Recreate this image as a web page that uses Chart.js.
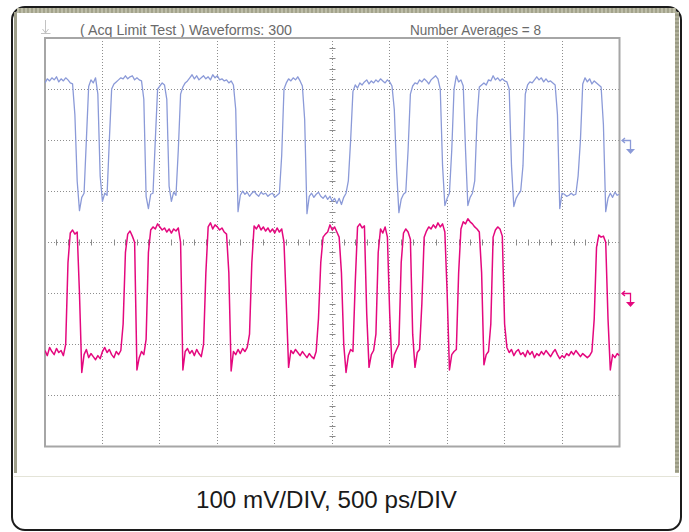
<!DOCTYPE html>
<html>
<head>
<meta charset="utf-8">
<script src="https://cdn.jsdelivr.net/npm/chart.js@4.4.1/dist/chart.umd.min.js"></script>
<style>
html,body{margin:0;padding:0;background:#fff;width:689px;height:532px;overflow:hidden;font-family:"Liberation Sans",Arial,sans-serif;}
#frame{position:absolute;left:11px;top:6px;width:671px;height:525px;box-sizing:border-box;border:2.5px solid #1c1c1c;border-radius:14px;}
#topstrip{position:absolute;left:17px;top:8px;width:659px;height:5px;background:repeating-linear-gradient(90deg,#bdbda8 0 2px,#a3a38c 2px 4px);}
#leftstrip{position:absolute;left:13.5px;top:12px;width:3.5px;height:461px;background:#a0a08c;}
#rightstrip{position:absolute;left:675px;top:12px;width:4px;height:461px;background:repeating-linear-gradient(180deg,#b0b09a 0 2px,#9a9a84 2px 4px);}
#sep{position:absolute;left:14px;top:476px;width:665px;height:1px;background:#e4e4d8;}
.hdr{position:absolute;top:23px;font-size:14px;line-height:14px;color:#6a6a6a;transform-origin:0 0;white-space:nowrap;}
#caption{position:absolute;top:488px;font-size:24px;line-height:24px;color:#1a1a1a;transform-origin:0 0;white-space:nowrap;}
canvas{position:absolute;left:0;top:0;}
</style>
</head>
<body>
<div id="frame"></div>
<div id="topstrip"></div>
<div id="leftstrip"></div>
<div id="rightstrip"></div>
<div id="sep"></div>
<div class="hdr" id="hdr1">( Acq Limit Test ) Waveforms: 300</div>
<div class="hdr" id="hdr2">Number Averages = 8</div>
<div id="caption">100 mV/DIV, 500 ps/DIV</div>
<canvas id="c" width="689" height="532"></canvas>
<script>
// ---- data (screen units: time in ps, voltage in mV relative to screen centre) ----
const sampleIntervalPs = 20;
const timeGridPs = [0, 500, 1000, 1500, 2000, 2500, 3000, 3500, 4000, 4500, 5000];
const voltGridMv = [-400, -300, -200, -100, 0, 100, 200, 300, 400];
const blueLevelMv = 200;
const magentaLevelMv = -100;

const blueMv = [
  312, 320, 316, 322, 318, 324, 314, 320, 316, 322,
  318, 312, 310, 250, 120, 62, 88, 96, 200, 305,
  318, 312, 322, 290, 130, 80, 96, 92, 200, 300,
  310, 314, 318, 322, 320, 326, 320, 324, 326, 318,
  322, 318, 316, 280, 90, 66, 94, 96, 200, 300,
  306, 312, 308, 280, 110, 80, 98, 92, 180, 290,
  304, 312, 316, 322, 328, 320, 326, 318, 322, 326,
  320, 324, 318, 328, 322, 326, 318, 320, 316, 318,
  312, 316, 308, 260, 60, 92, 100, 94, 98, 90,
  96, 100, 94, 90, 98, 94, 96, 90, 94, 96,
  88, 92, 96, 170, 300, 312, 320, 316, 322, 318,
  324, 316, 306, 240, 56, 90, 96, 88, 94, 98,
  90, 86, 92, 84, 90, 80, 86, 76, 86, 74,
  88, 96, 120, 200, 295, 308, 302, 312, 308, 314,
  318, 310, 316, 312, 318, 314, 320, 316, 312, 318,
  314, 306, 260, 140, 58, 84, 94, 98, 180, 290,
  306, 312, 310, 318, 314, 320, 316, 310, 318, 322,
  326, 320, 300, 150, 72, 86, 96, 180, 300, 326,
  314, 318, 306, 180, 72, 88, 96, 120, 240, 304,
  308, 312, 308, 318, 316, 326, 318, 322, 316, 320,
  316, 314, 300, 150, 70, 86, 94, 100, 150, 290,
  308, 314, 312, 318, 324, 318, 322, 314, 320, 314,
  316, 312, 308, 250, 66, 96, 94, 90, 92, 96,
  92, 94, 130, 200, 310, 322, 314, 320, 310, 316,
  312, 308, 304, 230, 60, 86, 96, 88, 98, 92,
  94
];

const magentaMv = [
  -212, -222, -206, -214, -220, -208, -216, -212, -222, -200,
  -40, 18, 24, 16, 20, -100, -255, -220, -210, -226,
  -218, -224, -230, -222, -228, -214, -206, -216, -210, -220,
  -226, -214, -220, -212, -160, -20, 16, 22, 12, 0,
  -250, -226, -214, -220, -190, -20, 24, 30, 26, 36,
  30, 24, 28, 20, 26, 18, 26, 22, 28, 0,
  -250, -214, -208, -218, -212, -222, -210, -218, -224, -200,
  -60, 30, 38, 26, 34, 30, 24, 28, 20, 16,
  -60, -252, -214, -220, -210, -218, -208, -214, -206, -180,
  -40, 32, 26, 34, 24, 30, 22, 28, 20, 26,
  18, 28, 20, 26, 0, -120, -245, -212, -218, -210,
  -216, -222, -214, -220, -226, -218, -224, -228, -214, -150,
  -40, 10, 16, 20, 34, 24, 30, 20, 10, -60,
  -200, -255, -222, -210, -214, -80, 30, 36, 28, 32,
  -140, -245, -220, -212, -180, -20, 26, 18, 30, 10,
  -140, -245, -220, -210, -200, -40, 18, 26, 20, 6,
  -180, -245, -216, -210, -120, 10, 22, 30, 26, 34,
  28, 38, 30, 36, 20, -100, -250, -220, -214, -210,
  -60, 26, 40, 36, 46, 40, 36, 30, 26, 20,
  -60, -240, -220, -214, -160, 10, 24, 30, 26, 12,
  -160, -206, -216, -210, -222, -214, -210, -220, -216, -224,
  -212, -220, -214, -226, -218, -222, -214, -220, -212, -218,
  -224, -216, -210, -220, -228, -222, -226, -218, -222, -214,
  -220, -212, -218, -224, -218, -222, -226, -222, -214, -150,
  -10, 14, 10, 12, 0, -150, -250, -220, -226, -218,
  -222
];

const BLUE = '#8b9ad8';
const MAGENTA = '#e4087e';

// ---- text fitting ----
function fitText(id, left, width) {
  const el = document.getElementById(id);
  el.style.left = left + 'px';
  const w = el.getBoundingClientRect().width;
  el.style.transform = 'scaleX(' + (width / w) + ')';
}
fitText('hdr1', 80, 212);
fitText('hdr2', 410, 131);
fitText('caption', 196, 261);

// ---- decorations plugin ----
const scopeDecor = {
  id: 'scopeDecor',
  beforeDatasetsDraw(chart) {
    const {ctx, chartArea: a, scales: {x, y}} = chart;
    ctx.save();
    // centre graticule minor ticks
    ctx.strokeStyle = '#8a8a8a';
    ctx.lineWidth = 1;
    const cx = Math.round(x.getPixelForValue(2500)) + 0.5;
    const cy = Math.round(y.getPixelForValue(0)) + 0.5;
    ctx.beginPath();
    for (let mv = -400; mv <= 400; mv += 20) {
      if (mv % 100 === 0) continue;
      const py = Math.round(y.getPixelForValue(mv)) + 0.5;
      ctx.moveTo(cx - 3, py); ctx.lineTo(cx + 3, py);
    }
    for (let ps = 0; ps <= 5000; ps += 100) {
      if (ps % 500 === 0) continue;
      const px = Math.round(x.getPixelForValue(ps)) + 0.5;
      ctx.moveTo(px, cy - 3); ctx.lineTo(px, cy + 3);
    }
    ctx.stroke();
    // plot frame
    ctx.strokeStyle = '#a6a6a6';
    ctx.lineWidth = 2;
    ctx.strokeRect(a.left, a.top, a.right - a.left, a.bottom - a.top);
    ctx.restore();
  },
  afterDraw(chart) {
    const {ctx, chartArea: a, scales: {y}} = chart;
    ctx.save();
    const marker = (mv, color) => {
      const yy = Math.round(y.getPixelForValue(mv)) + 0.5;
      const x0 = a.right + 2.5;
      ctx.strokeStyle = color; ctx.fillStyle = color; ctx.lineWidth = 1.3;
      ctx.beginPath();
      ctx.moveTo(x0 + 3, yy - 2.5); ctx.lineTo(x0, yy); ctx.lineTo(x0 + 3, yy + 2.5);
      ctx.moveTo(x0, yy); ctx.lineTo(x0 + 8.5, yy); ctx.lineTo(x0 + 8.5, yy + 9);
      ctx.stroke();
      ctx.beginPath();
      ctx.moveTo(x0 + 4, yy + 8.5); ctx.lineTo(x0 + 13, yy + 8.5); ctx.lineTo(x0 + 8.5, yy + 13.5);
      ctx.closePath(); ctx.fill();
    };
    marker(blueLevelMv, BLUE);
    marker(magentaLevelMv, MAGENTA);
    // trigger arrow top-left
    ctx.strokeStyle = '#c2c2c2'; ctx.lineWidth = 1;
    const tx = a.left + 0.5;
    ctx.beginPath();
    ctx.moveTo(tx, a.top - 18); ctx.lineTo(tx, a.top - 5);
    ctx.moveTo(tx - 3, a.top - 9); ctx.lineTo(tx, a.top - 5); ctx.lineTo(tx + 3, a.top - 9);
    ctx.moveTo(tx - 4.5, a.top - 4.5); ctx.lineTo(tx + 5, a.top - 4.5);
    ctx.stroke();
    ctx.restore();
  }
};

const toPoints = arr => arr.map((v, i) => ({x: i * sampleIntervalPs, y: v}));

new Chart(document.getElementById('c'), {
  type: 'line',
  data: {
    datasets: [
      {label: 'Ch1', data: toPoints(blueMv), borderColor: BLUE, borderWidth: 1.3, pointRadius: 0, tension: 0, borderJoinStyle: 'round'},
      {label: 'Ch2', data: toPoints(magentaMv), borderColor: MAGENTA, borderWidth: 1.5, pointRadius: 0, tension: 0, borderJoinStyle: 'round'}
    ]
  },
  options: {
    responsive: false,
    animation: false,
    devicePixelRatio: 1,
    layout: {padding: {left: 45, top: 38, right: 69.5, bottom: 85.5}},
    plugins: {legend: {display: false}, tooltip: {enabled: false}},
    scales: {
      x: {
        type: 'linear', min: 0, max: 5000,
        afterBuildTicks: s => { s.ticks = timeGridPs.map(v => ({value: v})); },
        ticks: {display: false},
        grid: {color: '#8e8e8e', lineWidth: 1, drawTicks: false},
        border: {display: false, dash: [1, 2]}
      },
      y: {
        type: 'linear', min: -400, max: 400,
        afterBuildTicks: s => { s.ticks = voltGridMv.map(v => ({value: v})); },
        ticks: {display: false},
        grid: {color: '#8e8e8e', lineWidth: 1, drawTicks: false},
        border: {display: false, dash: [1, 2]}
      }
    }
  },
  plugins: [scopeDecor]
});
</script>
</body>
</html>
